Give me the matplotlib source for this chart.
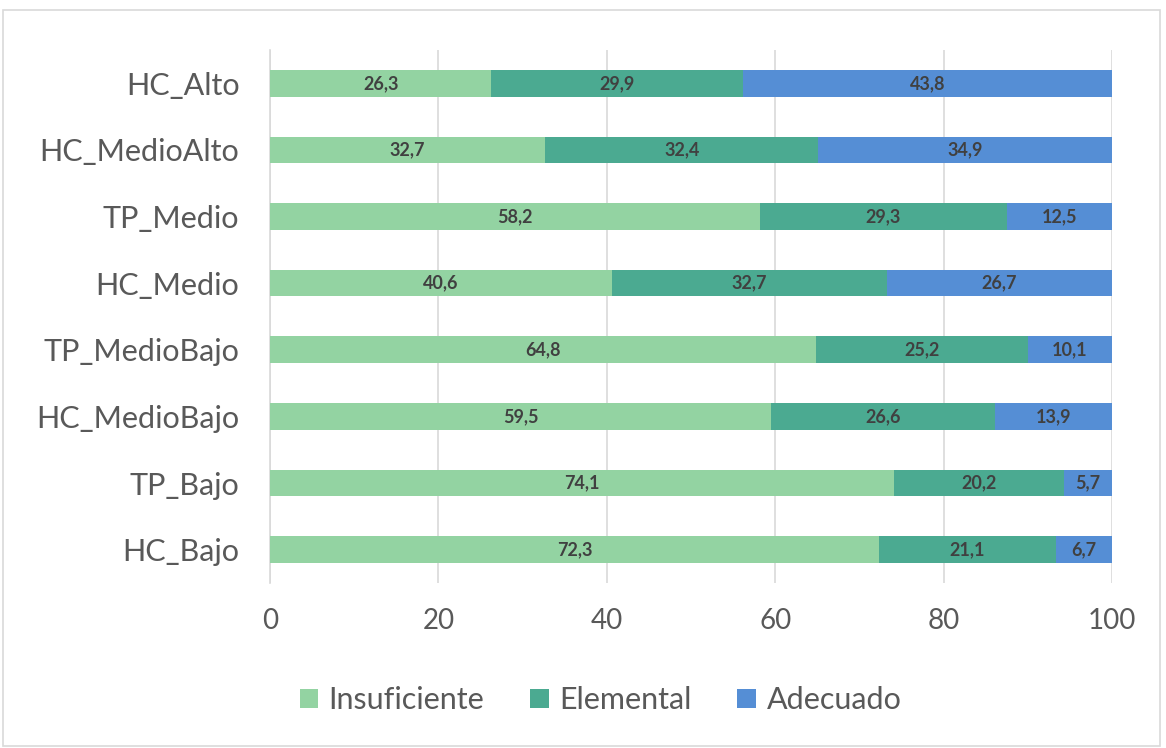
import matplotlib.pyplot as plt
from matplotlib.patches import Rectangle

# -----------------------------
# Data
# -----------------------------
categories = ["HC_Bajo", "TP_Bajo", "HC_MedioBajo", "TP_MedioBajo",
              "HC_Medio", "TP_Medio", "HC_MedioAlto", "HC_Alto"]
insuficiente = [72.3, 74.1, 59.5, 64.8, 40.6, 58.2, 32.7, 26.3]
elemental = [21.1, 20.2, 26.6, 25.2, 32.7, 29.3, 32.4, 29.9]
adecuado = [6.7, 5.7, 13.9, 10.1, 26.7, 12.5, 34.9, 43.8]
x_ticks = [0, 20, 40, 60, 80, 100]

series = [
    ("Insuficiente", insuficiente, "#93D3A2"),
    ("Elemental", elemental, "#4BAA91"),
    ("Adecuado", adecuado, "#558ED5"),
]

plt.rcParams["font.family"] = ["Lato", "DejaVu Sans"]

fig = plt.figure(figsize=(11.66, 7.48), dpi=100)
ax = fig.add_axes([0.2316, 0.2206, 0.7221, 0.7126])

# frame around chart area
fig.patches.append(Rectangle((0.003, 0.003), 0.992, 0.984, transform=fig.transFigure,
                             fill=False, edgecolor="#D9D9D9", linewidth=1.2))

y = list(range(len(categories)))
left = [0.0] * len(categories)
for name, vals, color in series:
    bars = ax.barh(y, vals, left=left, height=0.4, color=color, label=name, zorder=3)
    labels = [f"{v:.1f}".replace(".", ",") for v in vals]
    ax.bar_label(bars, labels=labels, label_type="center", fontsize=13,
                 color="#404040", fontweight="bold")
    left = [l + v for l, v in zip(left, vals)]

ax.set_xlim(0, 100)
ax.set_ylim(-0.5, len(categories) - 0.5)
ax.set_xticks(x_ticks)
ax.set_yticks(y)
ax.set_yticklabels(categories)
ax.tick_params(axis="both", length=0, labelcolor="#595959")
ax.tick_params(axis="x", pad=18, labelsize=20)
ax.tick_params(axis="y", pad=22, labelsize=22)
ax.grid(axis="x", color="#D9D9D9", linewidth=1.2, zorder=0)
for side in ["top", "right", "bottom"]:
    ax.spines[side].set_visible(False)
ax.spines["left"].set_color("#D9D9D9")
ax.spines["left"].set_linewidth(1.2)

fig.legend(loc="center", bbox_to_anchor=(0.515, 0.064), ncol=3, frameon=False,
           fontsize=22, handlelength=0.6, handleheight=0.6, handletextpad=0.35,
           columnspacing=1.5, labelcolor="#595959")

fig.savefig("out.png", dpi=100)
